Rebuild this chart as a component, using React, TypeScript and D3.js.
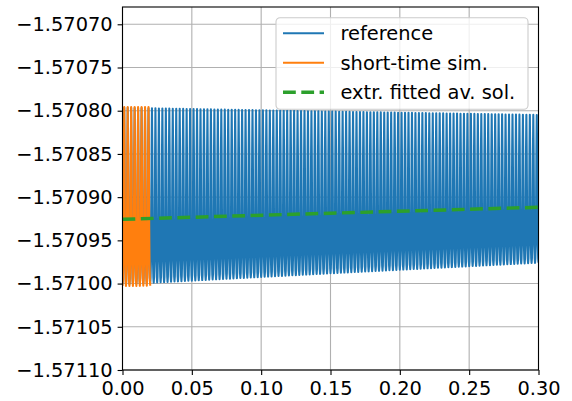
import React, { useEffect, useRef } from 'react';
import * as d3 from 'd3';

// axis ranges and ticks
const xDomain = [0, 0.3];
const yDomain = [-1.5711, -1.57068];
const xTicks = [0, 0.05, 0.1, 0.15, 0.2, 0.25, 0.3];
const yTicks = [-1.5711, -1.57105, -1.571, -1.57095, -1.5709, -1.57085, -1.5708, -1.57075, -1.5707];

// oscillation envelope of the reference solution
const refT = [0, 0.15, 0.3];
const refUpper = [-1.5707966, -1.570801, -1.5708049];
const refLower = [-1.5710008, -1.5709881, -1.5709758];

// short-time simulation envelope
const simT = [0, 0.02];
const simUpper = [-1.5707956, -1.5707958];
const simLower = [-1.5710028, -1.5710025];

// one period of the oscillation, 0 = lower envelope, 1 = upper envelope
const waveShape = [0, 0.03, 0.12, 0.35, 0.75, 1, 0.75, 0.35, 0.12, 0.03];
const cyclePeriod = 0.0025;

// extrapolated fitted average solution
const fitT = [0, 0.15, 0.3];
const fitValues = [-1.5709256, -1.5709186, -1.5709117];

const legendLabels = ['reference', 'short-time sim.', 'extr. fitted av. sol.'];
const colors = ['#1f77b4', '#ff7f0e', '#2ca02c'];

function oscillation(tEnv: number[], up: number[], lo: number[]): [number, number][] {
  const upS = d3.scaleLinear().domain(tEnv).range(up);
  const loS = d3.scaleLinear().domain(tEnv).range(lo);
  const t0 = tEnv[0], t1 = tEnv[tEnv.length - 1];
  const n = Math.round((t1 - t0) / cyclePeriod);
  const pts: [number, number][] = [];
  for (let k = 0; k < n; k++) {
    waveShape.forEach((s, j) => {
      const t = t0 + (k + j / waveShape.length) * cyclePeriod;
      pts.push([t, loS(t) + s * (upS(t) - loS(t))]);
    });
  }
  pts.push([t1, loS(t1)]);
  return pts;
}

export default function App() {
  const ref = useRef<SVGSVGElement>(null);

  useEffect(() => {
    const W = 572, H = 401;
    const margin = { top: 7, right: 33.5, bottom: 31, left: 122.5 };
    const w = W - margin.left - margin.right;
    const h = H - margin.top - margin.bottom;
    const font = 'DejaVu Sans, sans-serif';
    const fs = 19.4;

    const svg = d3.select(ref.current);
    svg.selectAll('*').remove();

    const x = d3.scaleLinear().domain(xDomain).range([0, w]);
    const y = d3.scaleLinear().domain(yDomain).range([h, 0]);

    const g = svg.append('g').attr('transform', `translate(${margin.left},${margin.top})`);

    g.append('clipPath').attr('id', 'plotclip')
      .append('rect').attr('width', w).attr('height', h);

    // grid
    g.selectAll('.xgrid').data(xTicks).join('line')
      .attr('x1', d => x(d)).attr('x2', d => x(d)).attr('y1', 0).attr('y2', h)
      .attr('stroke', '#b0b0b0').attr('stroke-width', 1.1);
    g.selectAll('.ygrid').data(yTicks).join('line')
      .attr('y1', d => y(d)).attr('y2', d => y(d)).attr('x1', 0).attr('x2', w)
      .attr('stroke', '#b0b0b0').attr('stroke-width', 1.1);

    const line = d3.line<[number, number]>().x(d => x(d[0])).y(d => y(d[1]));
    const plot = g.append('g').attr('clip-path', 'url(#plotclip)');

    plot.append('path').datum(oscillation(refT, refUpper, refLower))
      .attr('d', line).attr('fill', 'none').attr('stroke', colors[0])
      .attr('stroke-width', 2.08).attr('stroke-linejoin', 'round');
    plot.append('path').datum(oscillation(simT, simUpper, simLower))
      .attr('d', line).attr('fill', 'none').attr('stroke', colors[1])
      .attr('stroke-width', 2.08).attr('stroke-linejoin', 'round');
    plot.append('path').datum(fitT.map((t, i) => [t, fitValues[i]] as [number, number]))
      .attr('d', line).attr('fill', 'none').attr('stroke', colors[2])
      .attr('stroke-width', 3.47).attr('stroke-dasharray', '12.8,5.5');

    // axes
    const xAxis = g.append('g').attr('transform', `translate(0,${h})`)
      .call(d3.axisBottom(x).tickValues(xTicks).tickFormat(d3.format('.2f')).tickSize(4.9).tickPadding(4.9));
    const yAxis = g.append('g')
      .call(d3.axisLeft(y).tickValues(yTicks).tickFormat(d3.format('.5f')).tickSize(4.9).tickPadding(4.9));
    [xAxis, yAxis].forEach(a => {
      a.select('.domain').remove();
      a.selectAll('line').attr('stroke', '#000').attr('stroke-width', 1.1);
      a.selectAll('text').attr('font-family', font).attr('font-size', fs).attr('fill', '#000');
    });
    xAxis.selectAll('text').attr('dy', '0.76em');

    g.append('rect').attr('width', w).attr('height', h)
      .attr('fill', 'none').attr('stroke', '#000').attr('stroke-width', 1.1);

    // legend
    const lg = g.append('g').attr('transform', `translate(${276 - margin.left},${17.7 - margin.top})`);
    lg.append('rect').attr('width', 252).attr('height', 91.5).attr('rx', 4)
      .attr('fill', 'white').attr('fill-opacity', 0.8)
      .attr('stroke', '#cccccc').attr('stroke-width', 1.1);
    legendLabels.forEach((lab, i) => {
      const cy = 15.6 + i * 29.5;
      const l = lg.append('line').attr('x1', 7).attr('x2', 48).attr('y1', cy).attr('y2', cy)
        .attr('stroke', colors[i]);
      if (i === 2) l.attr('stroke-width', 3.47).attr('stroke-dasharray', '12.8,5.5');
      else l.attr('stroke-width', 2.08);
      lg.append('text').attr('x', 64.5).attr('y', cy).attr('dy', '0.35em')
        .attr('font-family', font).attr('font-size', fs).text(lab);
    });
  }, []);

  return (
    <svg ref={ref} width={572} height={401}
      style={{ position: 'absolute', left: 0, top: 0, background: 'white' }} />
  );
}
